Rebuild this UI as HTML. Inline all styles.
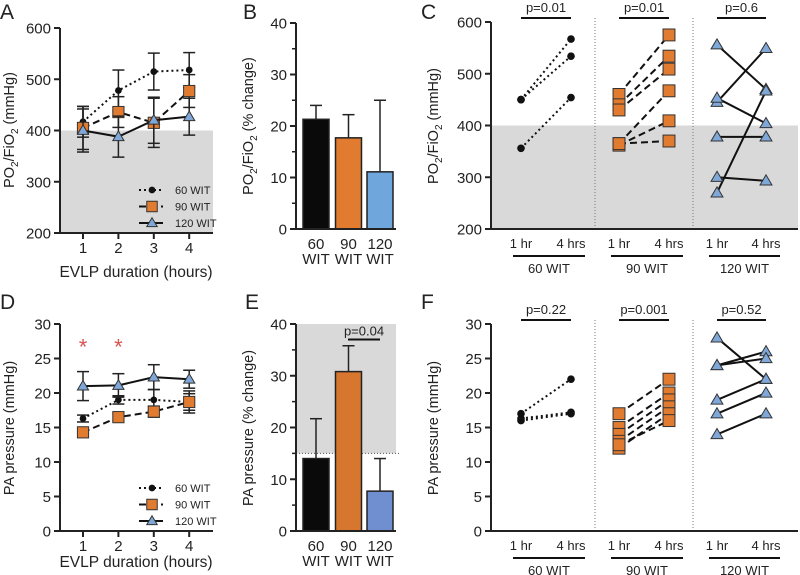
<!DOCTYPE html>
<html><head><meta charset="utf-8"><style>
body{margin:0;background:#fff}svg{display:block;font-family:"Liberation Sans",sans-serif}
</style></head><body>
<svg id="fig" width="800" height="575" viewBox="0 0 800 575"></svg>
<script>
const hours=[1,2,3,4];
const groups=['60 WIT','90 WIT','120 WIT'];
const aMean60=[417,478,515,518], aErr60=[30,40,36,34];
const aMean90=[405,436,415,477], aErr90=[42,30,48,32];
const aMean120=[400,388,420,427], aErr120=[42,40,45,36];
const bVals=[21.3,17.7,11.1], bErr=[2.7,4.5,13.9];
const c60=[[450,567],[450,534],[356,454]];
const c90=[[460,575],[440,534],[430,509],[365,467],[362,409],[365,370]];
const c120=[[556,470],[445,549],[453,404],[378,378],[300,293],[270,467]];
const cP=['p=0.01','p=0.01','p=0.6'];
const dMean60=[16.3,19,19,18.7], dErr60=[0.5,0.6,1.5,1.2];
const dMean90=[14.3,16.5,17.3,18.7], dErr90=[0.5,0.5,0.8,1.6];
const dMean120=[21,21.1,22.3,22], dErr120=[2.1,1.7,1.8,1.3];
const eVals=[14,30.8,7.7], eErr=[7.7,5,6.3];
const f60=[[17,22],[16.3,17.2],[16,17]];
const f90=[[17,22],[15,20],[14,19],[13,18],[12,17],[12.5,16]];
const f120=[[28,22],[24,26],[24,25],[19,22],[17,20],[14,17]];
const fP=['p=0.22','p=0.001','p=0.52'];
const ticksA=[200,300,400,500,600], ticksB=[0,10,20,30,40], ticksD=[0,5,10,15,20,25,30];

const S=document.getElementById('fig');
function el(t,a,p){const e=document.createElementNS('http://www.w3.org/2000/svg',t);for(const k in a)e.setAttribute(k,a[k]);(p||S).appendChild(e);return e;}
function txt(x,y,s,sz,anc,p,extra){const e=el('text',Object.assign({x:x,y:y,'font-size':sz,'text-anchor':anc||'middle',fill:'#222'},extra||{}),p);e.textContent=s;return e;}
const DASH={60:'2,3',90:'7,4',120:''};
function marker(k,x,y,p,sz){sz=sz||1;
 if(k==60){const m=el('circle',{cx:x,cy:y,r:4.5*sz,fill:'#111'},p);}
 else if(k==90){const s=7*sz;const m=el('rect',{x:x-s,y:y-s,width:2*s,height:2*s,fill:'#e07b30',stroke:'#333','stroke-width':1},p);}
 else{const s=7*sz;const m=el('polygon',{points:`${x},${y-s} ${x+s},${y+s*0.7} ${x-s},${y+s*0.7}`,fill:'#7fa8d8',stroke:'#333','stroke-width':1},p);}}
function yAxis(g,x,y0,y1,v0,v1,ticks,minor){
 const sc=v=>y0+(v-v0)/(v1-v0)*(y1-y0);
 el('line',{x1:x,y1:y0+1,x2:x,y2:y1,stroke:'#222','stroke-width':2},g);
 ticks.forEach(t=>{el('line',{x1:x-6,y1:sc(t),x2:x,y2:sc(t),stroke:'#222','stroke-width':2},g);txt(x-9,sc(t)+5.5,t,15,'end',g);});
 if(minor){for(let i=0;i<ticks.length-1;i++){const m=(ticks[i]+ticks[i+1])/2;el('line',{x1:x-4,y1:sc(m),x2:x,y2:sc(m),stroke:'#222','stroke-width':1.5},g);}}
 return sc;}
function sub(s1,sub,s2,x,y,g,name){const t=el('text',{x:x,y:y,'font-size':14.5,'text-anchor':'middle',fill:'#222',transform:`rotate(-90 ${x} ${y})`},g);
 t.innerHTML=s1+(sub?`<tspan font-size="10" dy="4">2</tspan><tspan dy="-4">${s2}</tspan>`:'');}
function label(s,x,y){const t=txt(x,y,s,21,'start');}

function linePanel(name,top,bot,v0,v1,ticks,means,errs,shade,stars,tickOff,titleOff){
 const g=el('g',{});
 const x0=60,xe=213;const xs=h=>83+(h-1)*35.4;
 const ys=v=>bot+(v-v0)/(v1-v0)*(top-bot);
 if(shade!=null)el('rect',{x:x0,y:ys(shade),width:xe-x0,height:bot-ys(shade),fill:'#d9d9d9'},g);
 yAxis(g,x0,bot,top,v0,v1,ticks,false);
 el('line',{x1:x0-1,y1:bot,x2:xe,y2:bot,stroke:'#222','stroke-width':2},g);
 hours.forEach(h=>{el('line',{x1:xs(h),y1:bot,x2:xs(h),y2:bot+6,stroke:'#222','stroke-width':2},g);txt(xs(h),bot+tickOff,h,15,'middle',g);});
 const xt=txt(136,bot+titleOff,'EVLP duration (hours)',15.5,'middle',g);
 [60,90,120].forEach((k,i)=>{const m=means[i],e=errs[i];
  const s=el('g',{},g);
  hours.forEach((h,j)=>{const x=xs(h);el('line',{x1:x,y1:ys(m[j]-e[j]),x2:x,y2:ys(m[j]+e[j]),stroke:'#222','stroke-width':1.5},s);
   [m[j]-e[j],m[j]+e[j]].forEach(v=>el('line',{x1:x-6,y1:ys(v),x2:x+6,y2:ys(v),stroke:'#222','stroke-width':1.5},s));});
  el('polyline',{points:hours.map((h,j)=>xs(h)+','+ys(m[j])).join(' '),fill:'none',stroke:'#111','stroke-width':2,'stroke-dasharray':DASH[k]},s);
  hours.forEach((h,j)=>marker(k,xs(h),ys(m[j]),s,k==60?0.75:0.8));});
 const lg=el('g',{},g);
 [60,90,120].forEach((k,i)=>{const y=bot-43+i*16.5;el('line',{x1:139,y1:y,x2:163,y2:y,stroke:'#111','stroke-width':2,'stroke-dasharray':DASH[k]},lg);marker(k,152,y,lg,0.75);
  const t=txt(175,y+4,k+' WIT',11,'start',lg);});
 if(stars)stars.forEach(h=>{const t=txt(xs(h),ys(25)-4,'*',22,'middle',g,{fill:'#d9534f'});});
 return g;}

function barPanel(name,top,bot,vals,errs,cols){
 const g=el('g',{});
 const ys=v=>bot+v/40*(top-bot);const x0=296;
 return {g,ys,x0,draw:()=>{
  const lefts=[303,335.5,367];
  vals.forEach((v,i)=>{
   el('line',{x1:lefts[i]+13,y1:ys(v),x2:lefts[i]+13,y2:ys(v+errs[i]),stroke:'#222','stroke-width':1.5},g);
   el('line',{x1:lefts[i]+7,y1:ys(v+errs[i]),x2:lefts[i]+19,y2:ys(v+errs[i]),stroke:'#222','stroke-width':1.5},g);
   const b=el('rect',{x:lefts[i],y:ys(v),width:26,height:bot-ys(v),fill:cols[i],stroke:'#222','stroke-width':1.5},g);
   txt(lefts[i]+13,bot+20,groups[i].split(' ')[0],15,'middle',g);txt(lefts[i]+13,bot+35,'WIT',15,'middle',g);});
  yAxis(g,x0,bot,top,0,40,ticksB,true);
  el('line',{x1:x0-1,y1:bot,x2:396,y2:bot,stroke:'#222','stroke-width':2},g);}};}

function pairPanel(name,top,bot,v0,v1,ticks,sets,ps,shade){
 const g=el('g',{});
 const ys=v=>bot+(v-v0)/(v1-v0)*(top-bot);const x0=491,xe=798;
 const gx=[[521,571],[619,669],[717,766]];
 if(shade!=null)el('rect',{x:x0,y:ys(shade),width:xe-x0,height:bot-ys(shade),fill:'#d9d9d9'},g);
 [595,693].forEach(x=>el('line',{x1:x,y1:top-4,x2:x,y2:bot,stroke:'#777','stroke-width':1,'stroke-dasharray':'1,2'},g));
 yAxis(g,x0,bot,top,v0,v1,ticks,false);
 el('line',{x1:x0-1,y1:bot,x2:xe,y2:bot,stroke:'#222','stroke-width':2},g);
 [60,90,120].forEach((k,i)=>{const s=el('g',{},g);
  sets[i].forEach(p=>el('line',{x1:gx[i][0],y1:ys(p[0]),x2:gx[i][1],y2:ys(p[1]),stroke:'#111','stroke-width':2,'stroke-dasharray':DASH[k]},s));
  sets[i].forEach(p=>{marker(k,gx[i][0],ys(p[0]),s,0.85);marker(k,gx[i][1],ys(p[1]),s,0.85);});
  el('line',{x1:gx[i][0],y1:top-4,x2:gx[i][1],y2:top-4,stroke:'#111','stroke-width':2},g);
  const pt=txt((gx[i][0]+gx[i][1])/2,top-10,ps[i],13,'middle',g);
  txt(gx[i][0],bot+19,'1 hr',13,'middle',g);txt(gx[i][1],bot+19,'4 hrs',13,'middle',g);
  el('line',{x1:gx[i][0]-8,y1:bot+27,x2:gx[i][1]+14,y2:bot+27,stroke:'#111','stroke-width':2},g);
  txt((gx[i][0]+gx[i][1])/2+3,bot+44,groups[i],13,'middle',g);});
 return g;}

linePanel('panel-a-chart',28,233,200,600,ticksA,[aMean60,aMean90,aMean120],[aErr60,aErr90,aErr120],400,null,20,44);
sub('PO','2','/FiO<tspan font-size="10" dy="4">2</tspan><tspan dy="-4"> (mmHg)</tspan>',14,130,S,'y-axis-title-a');
label('A',0,19);
const B=barPanel('panel-b-chart',23,229,bVals,bErr,['#0a0a0a','#e07b30','#6fa6dc']);B.draw();
sub('PO','2','/FiO<tspan font-size="10" dy="4">2</tspan><tspan dy="-4"> (% change)</tspan>',253,126,S,'y-axis-title-b');
label('B',243,19);
pairPanel('panel-c-chart',22,229,200,600,ticksA,[c60,c90,c120],cP,400);
sub('PO','2','/FiO<tspan font-size="10" dy="4">2</tspan><tspan dy="-4"> (mmHg)</tspan>',438,126,S,'y-axis-title-c');
label('C',421,19);
linePanel('panel-d-chart',324,531,0,30,ticksD,[dMean60,dMean90,dMean120],[dErr60,dErr90,dErr120],null,[1,2],20,36);
sub('PA pressure (mmHg)',null,'',14,428,S,'y-axis-title-d');
label('D',0,309);
const E=barPanel('panel-e-chart',324,531,eVals,eErr,['#0a0a0a','#d7772f','#6f8fd0']);
el('rect',{x:296,y:E.ys(40),width:100,height:E.ys(15)-E.ys(40),fill:'#d9d9d9'},E.g);
el('line',{x1:296,y1:E.ys(15),x2:400,y2:E.ys(15),stroke:'#555','stroke-width':1,'stroke-dasharray':'1,2'},E.g);
E.draw();
el('line',{x1:348,y1:E.ys(37),x2:380,y2:E.ys(37),stroke:'#111','stroke-width':2},E.g);
const pe=txt(364,E.ys(37)-4,'p=0.04',13,'middle',E.g);
sub('PA pressure (% change)',null,'',253,428,S,'y-axis-title-e');
label('E',245,309);
pairPanel('panel-f-chart',324,531,0,30,ticksD,[f60,f90,f120],fP,null);
sub('PA pressure (mmHg)',null,'',438,428,S,'y-axis-title-f');
label('F',421,309);
</script>
</body></html>
